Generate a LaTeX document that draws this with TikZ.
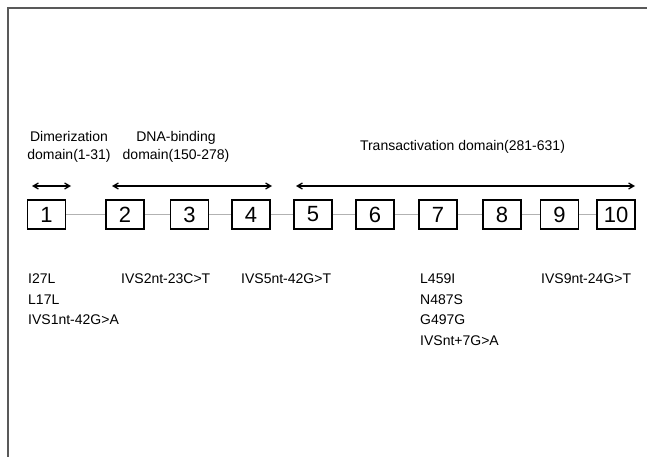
\documentclass[tikz,border=0pt]{standalone}
\usepackage{fontspec}
\setmainfont{Liberation Sans}
\usepackage{tikz}
\usetikzlibrary{arrows,positioning}
\tikzset{font=\fontsize{14}{20.5}\selectfont}
\tikzstyle{exon}=[rectangle,draw,line width=1.8pt,minimum width=38pt,minimum height=29pt,inner sep=0pt,font=\fontsize{22}{24}\selectfont]
\tikzstyle{mut}=[anchor=north west,align=left,inner sep=0pt]
\tikzstyle{dom}=[align=center,inner sep=0pt,font=\fontsize{14}{18}\selectfont]

\begin{document}
\begin{tikzpicture}[x=1pt,y=-1pt]
\useasboundingbox (0,0) rectangle (647,457);
\draw[gray!70!black,line width=1.6pt] (647,8) -- (8,8) -- (8,457);
% exons
\node[exon] (E1) at (46.5,214.5) {1};
\node[exon] (E2) at (125,214.5) {2};
\node[exon] (E3) at (189.5,214.5) {3};
\node[exon] (E4) at (251,214.5) {4};
\node[exon] (E5) at (313,214.5) {5};
\node[exon] (E6) at (375,214.5) {6};
\node[exon] (E7) at (438,214.5) {7};
\node[exon] (E8) at (502,214.5) {8};
\node[exon] (E9) at (559.5,214.5) {9};
\node[exon] (E10) at (616,214.5) {10};
\path[gray!60,line width=0.8pt]
(E1) edge (E2)
(E2) edge (E3)
(E3) edge (E4)
(E4) edge (E5)
(E5) edge (E6)
(E6) edge (E7)
(E7) edge (E8)
(E8) edge (E9)
(E9) edge (E10);
% domains
\coordinate (d1l) at (32,186);
\coordinate (d1r) at (71,186);
\coordinate (d2l) at (112,186);
\coordinate (d2r) at (272,186);
\coordinate (d3l) at (296,186);
\coordinate (d3r) at (635,186);
\path[<->,>=angle 60,line width=1.3pt]
(d1l) edge (d1r)
(d2l) edge (d2r)
(d3l) edge (d3r);
\node[dom] (D1) at (69,147) {Dimerization\\domain(1-31)};
\node[dom] (D2) at (176,147) {DNA-binding\\domain(150-278)};
\node[dom] (D3) at (462.5,147) {Transactivation domain(281-631)};
% mutations
\node[mut] (M1) at (28,274) {I27L\\L17L\\IVS1nt-42G>A};
\node[mut] (M2) at (121,274) {IVS2nt-23C>T};
\node[mut] (M4) at (241,274) {IVS5nt-42G>T};
\node[mut] (M7) at (420,274) {L459I\\N487S\\G497G\\IVSnt+7G>A};
\node[mut] (M9) at (541,274) {IVS9nt-24G>T};
\end{tikzpicture}
\end{document}
